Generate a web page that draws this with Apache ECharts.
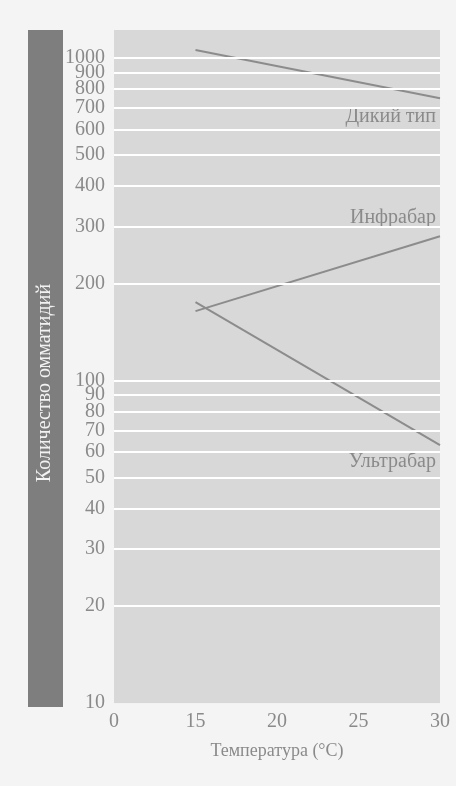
<!DOCTYPE html>
<html>
<head>
<meta charset="utf-8">
<script src="https://cdn.jsdelivr.net/npm/echarts@6/dist/echarts.min.js"></script>
<style>
html,body{margin:0;padding:0;background:#f4f4f4;}
#chart{width:456px;height:786px;}
</style>
</head>
<body>
<div id="chart"></div>
<script>
// x: temperature; axis is broken, the left end labelled "0" sits one step before 15
const xTicks = [10, 15, 20, 25, 30];
const xTickLabels = ['0', '15', '20', '25', '30'];
const yTicks = [10, 20, 30, 40, 50, 60, 70, 80, 90, 100, 200, 300, 400, 500, 600, 700, 800, 900, 1000];
const temps = [15, 30];
const wildType = [1058, 750];
const infrabar = [164, 280];
const ultrabar = [175, 63];
const seriesNames = ['Дикий тип', 'Инфрабар', 'Ультрабар'];

const serif = '"Liberation Serif", "DejaVu Serif", serif';
const txt = '#8a8a8a';
const lineColor = '#8c8c8c';

function pairs(vals) {
  return temps.map((t, i) => [t, vals[i]]);
}
function endLbl(name, dy) {
  return { show: true, formatter: name, align: 'right', verticalAlign: 'middle',
           distance: 0, offset: [-4, dy],
           color: txt, fontFamily: serif, fontSize: 20 };
}

const chart = echarts.init(document.getElementById('chart'));
chart.setOption({
  backgroundColor: '#f4f4f4',
  animation: false,
  grid: { left: 114, right: 16, top: 30, bottom: 83, show: true,
          backgroundColor: '#d8d8d8', borderWidth: 0 },
  xAxis: {
    type: 'value', min: 10, max: 30, interval: 5,
    name: 'Температура (°C)', nameLocation: 'middle', nameGap: 39,
    nameTextStyle: { color: txt, fontFamily: serif, fontSize: 18 },
    axisLine: { show: false }, axisTick: { show: false }, splitLine: { show: false },
    axisLabel: { color: txt, fontFamily: serif, fontSize: 20, margin: 9,
      formatter: v => xTickLabels[xTicks.indexOf(v)] }
  },
  yAxis: {
    type: 'log', logBase: 10, min: 10, max: 1220,
    axisLine: { show: false }, axisTick: { show: false },
    axisLabel: { show: false }, splitLine: { show: false }
  },
  graphic: [
    { type: 'rect', left: 28, top: 30, shape: { width: 35, height: 677 },
      style: { fill: '#7e7e7e' } },
    { type: 'text', x: 45, y: 383, rotation: Math.PI / 2,
      style: { text: 'Количество омматидий', fill: '#f2f2f2', font: '20px ' + serif,
               align: 'center', verticalAlign: 'middle' } }
  ],
  series: [
    {
      type: 'line', data: [], z: 1, silent: true,
      markLine: {
        silent: true, symbol: 'none', animation: false,
        lineStyle: { color: '#ffffff', width: 2, type: 'solid' },
        label: { position: 'start', distance: 9, color: txt, fontFamily: serif, fontSize: 20,
                 formatter: p => String(p.value) },
        emphasis: { disabled: true },
        data: yTicks.map(v => v === 10
          ? { yAxis: v, lineStyle: { color: '#d8d8d8', width: 0.1 } }
          : { yAxis: v })
      }
    },
    { name: seriesNames[0], type: 'line', z: 3, symbol: 'none',
      lineStyle: { color: lineColor, width: 2 },
      endLabel: endLbl(seriesNames[0], 19),
      data: pairs(wildType) },
    { name: seriesNames[1], type: 'line', z: 3, symbol: 'none',
      lineStyle: { color: lineColor, width: 2 },
      endLabel: endLbl(seriesNames[1], -18),
      data: pairs(infrabar) },
    { name: seriesNames[2], type: 'line', z: 3, symbol: 'none',
      lineStyle: { color: lineColor, width: 2 },
      endLabel: endLbl(seriesNames[2], 17),
      data: pairs(ultrabar) }
  ]
});
</script>
</body>
</html>
